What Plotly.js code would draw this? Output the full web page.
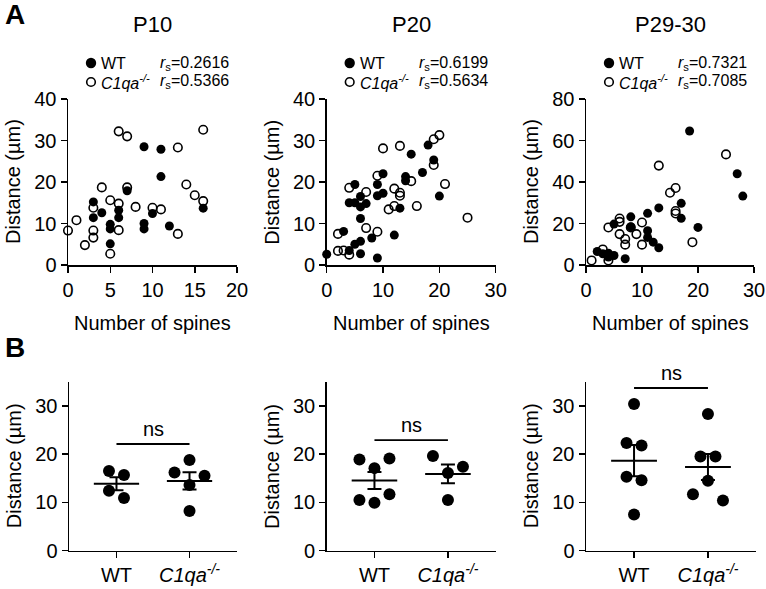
<!DOCTYPE html>
<html>
<head>
<meta charset="utf-8">
<script src="https://cdn.plot.ly/plotly-3.0.1.min.js"></script>
<style>html,body{margin:0;padding:0;background:#fff;}#chart{width:766px;height:589px;}</style>
</head>
<body>
<div id="chart"></div>
<script>
// ---------- DATA ----------
const panelTitles = ["P10", "P20", "P29-30"];
const groupLabels = ["WT", "<i>C1qa</i><sup><i>-/-</i></sup>"];

// Panel A: number of spines vs distance (µm)
const p10_wt_x = [3,3,4,5,5,5,6,6,7,9,9,9,10,11,11,12,16];
const p10_wt_y = [15.2,11.4,12.6,9.8,8.7,5.1,13.2,11.4,17.9,28.5,10.0,8.7,12.4,27.9,21.3,9.4,13.7];
const p10_ko_x = [0,1,2,3,3,3,4,5,5,6,6,6,7,7,8,10,11,13,13,14,15,16,16];
const p10_ko_y = [8.3,10.8,4.8,13.8,8.3,6.6,18.7,15.6,2.7,14.8,8.4,32.2,31.0,18.7,14.0,13.8,13.4,28.3,7.5,19.4,16.8,15.4,32.6];

const p20_wt_x = [0,3,4,4,5,5,5,6,6,6,6,6,7,8,9,9,9,10,10,12,13,14,14,15,17,18,19,20];
const p20_wt_y = [2.6,8.1,3.5,15,19.4,15,5,16.5,14,11.2,5.7,2.7,14.8,6.5,19.4,16.7,1.7,22,17.3,7.2,13.7,21.3,20.3,26.7,22.3,28.9,25.3,16.6];
const p20_ko_x = [2,2,3,4,4,7,7,9,9,10,11,12,12,13,13,13,15,16,19,19,20,21,25];
const p20_ko_y = [7.5,3.4,3.5,2.5,18.6,17.6,8.9,8,21.5,28.1,13.4,18.4,14.2,28.7,17.4,16.7,20.2,14.2,30.3,24.1,31.3,19.5,11.4];

const p29_wt_x = [18.5,27,28,17,17,20,13,11,8,8,5,11,11,12,13,7,2,3,4,5,4];
const p29_wt_y = [64.6,44,33.2,29.7,22.5,18.1,27.5,24.9,23.2,18.4,19.7,16.5,13.3,11,8.3,3,6.5,5.4,5.7,4.6,3.8];
const p29_ko_x = [1,3,4,4,6,6,6,7,7,8,9,10,10,13,15,16,16,16,19,25];
const p29_ko_y = [2.2,7.5,2.2,18.1,22.4,20.8,14.9,12.5,9.8,18.1,14.9,20.5,9.8,47.9,34.8,37.1,26,24.8,11,53.3];

const rs_wt = [0.2616, 0.6199, 0.7321];
const rs_ko = [0.5366, 0.5634, 0.7085];

// Panel B: distance (µm) per animal
const b10_wt = [16.5,15.7,12.4,10.9];
const b10_ko = [18.8,15.5,16.2,13.6,8.2];
const b20_wt = [18.9,19.1,17.1,11.7,9.95,10.5];
const b20_ko = [19.6,17.4,16.1,10.5];
const b29_wt = [30.4,21.8,22.3,15.3,14.6,7.5];
const b29_ko = [28.3,19.5,19.5,14.5,10.4,11.7];
const sigLabel = "ns";

// ---------- LAYOUT GEOMETRY (pixels) ----------
const W = 766, H = 589;
const FONT = "Liberation Sans, Arial, Helvetica, sans-serif";
const px = x => x / W;
const py = y => 1 - y / H;
const topX = [[68,237],[326.7,495.7],[586,754]];
const topY = [99,265];
const botX = [[69,237],[326.7,495.7],[586,756]];
const botY = [381.7,550.7];
const topXRange = [[0,20],[0,30],[0,30]];
const topXDtick = [5,10,10];
const topYRange = [[0,40],[0,40],[0,80]];
const topYDtick = [10,10,20];
const botYRange = [0,35];
const botXRange = [-0.65,1.65];

const scatterSets = [
  [p10_wt_x,p10_wt_y,p10_ko_x,p10_ko_y],
  [p20_wt_x,p20_wt_y,p20_ko_x,p20_ko_y],
  [p29_wt_x,p29_wt_y,p29_ko_x,p29_ko_y]
];
const dotSets = [[b10_wt,b10_ko],[b20_wt,b20_ko],[b29_wt,b29_ko]];

function mean(a){return a.reduce((s,v)=>s+v,0)/a.length;}
function sem(a){const m=mean(a);const v=a.reduce((s,x)=>s+(x-m)*(x-m),0)/(a.length-1);return Math.sqrt(v)/Math.sqrt(a.length);}

// Prism-like row swarm: offsets in x-axis units
function swarm(vals, pxPerY, pxPerX){
  const rowH = 12/pxPerY, adj = 15/pxPerY, s = 15/pxPerX;
  const idx = vals.map((v,i)=>i).sort((a,b)=>vals[b]-vals[a]);
  const rows = [];
  idx.forEach(i=>{
    const v = vals[i];
    const r = rows[rows.length-1];
    if(r && (r.top - v) < rowH){ r.items.push(i); r.bot = v; }
    else rows.push({top:v, bot:v, items:[i]});
  });
  const off = new Array(vals.length).fill(0);
  rows.forEach((r,k)=>{
    const n = r.items.length;
    if(n % 2 === 1){
      const asc = r.items.slice().sort((a,b)=>vals[a]-vals[b]);
      asc.forEach((i,j)=>{ const m = Math.ceil(j/2); off[i] = (j===0?0:(j%2===1?-1:1))*m*s; });
    } else {
      const prev = rows[k-1], next = rows[k+1];
      const nearOdd = (prev && prev.items.length%2===1 && (prev.bot - r.top) < adj) ||
                      (next && next.items.length%2===1 && (r.bot - next.top) < adj);
      r.items.forEach((i,j)=>{
        const m = Math.floor(j/2);
        const sign = j%2===0 ? -1 : 1;
        off[i] = sign * (nearOdd ? (m+1)*s : (m+0.5)*s);
      });
    }
  });
  return off;
}

const traces = [];
const layout = {
  width: W, height: H,
  margin: {l:0, r:0, t:0, b:0},
  paper_bgcolor: "#fff", plot_bgcolor: "rgba(0,0,0,0)",
  showlegend: false,
  font: {family: FONT, size: 20, color: "#000"},
  annotations: [], shapes: []
};

function axisBase(){
  return {showgrid:false, zeroline:false, showline:true, linecolor:"#000", linewidth:1.5,
    ticks:"outside", ticklen:6, tickwidth:1.5, tickcolor:"#000",
    tickfont:{family:FONT, size:20, color:"#000"}, fixedrange:true};
}

// ---- top row ----
for(let p=0;p<3;p++){
  const n = p+1;
  const xa = "xaxis"+(n===1?"":n), ya = "yaxis"+(n===1?"":n);
  const xr = "x"+(n===1?"":n), yr = "y"+(n===1?"":n);
  layout[xa] = Object.assign(axisBase(), {domain:[px(topX[p][0]),px(topX[p][1])], range:topXRange[p], dtick:topXDtick[p], tick0:0, anchor:yr});
  layout[ya] = Object.assign(axisBase(), {domain:[py(topY[1]),py(topY[0])], range:topYRange[p], dtick:topYDtick[p], tick0:0, anchor:xr});
  const [wx,wy,kx,ky] = scatterSets[p];
  traces.push({type:"scatter", mode:"markers", x:wx, y:wy, xaxis:xr, yaxis:yr, cliponaxis:false,
    marker:{symbol:"circle", size:9, color:"#000"}, hoverinfo:"skip"});
  traces.push({type:"scatter", mode:"markers", x:kx, y:ky, xaxis:xr, yaxis:yr, cliponaxis:false,
    marker:{symbol:"circle-open", size:8.5, color:"#000", line:{width:1.6, color:"#000"}}, hoverinfo:"skip"});

  const L = topX[p][0], R = topX[p][1], cx = (L+R)/2;
  // panel title
  layout.annotations.push({text:panelTitles[p], xref:"paper", yref:"paper", x:px(cx), y:py(24),
    xanchor:"center", yanchor:"middle", showarrow:false, font:{family:FONT, size:22, color:"#000"}});
  // axis titles
  layout.annotations.push({text:"Number of spines", xref:"paper", yref:"paper", x:px(cx), y:py(323),
    xanchor:"center", yanchor:"middle", showarrow:false, font:{family:FONT, size:20, color:"#000"}});
  layout.annotations.push({text:"Distance (µm)", xref:"paper", yref:"paper", x:px(L-55), y:py((topY[0]+topY[1])/2),
    xanchor:"center", yanchor:"middle", textangle:-90, showarrow:false, font:{family:FONT, size:20, color:"#000"}});
  // legend
  const rows = [{y:63, filled:true, label:groupLabels[0], r:rs_wt[p]},{y:82, filled:false, label:groupLabels[1], r:rs_ko[p]}];
  rows.forEach(rw=>{
    const rad = rw.filled ? 5.2 : 4.3;
    layout.shapes.push({type:"circle", xref:"paper", yref:"paper", xsizemode:"pixel", ysizemode:"pixel",
      xanchor:px(L+23), yanchor:py(rw.y), x0:-rad, x1:rad, y0:-rad, y1:rad,
      fillcolor: rw.filled ? "#000" : "rgba(0,0,0,0)", line:{color:"#000", width: rw.filled?0:1.6}});
    layout.annotations.push({text:rw.label, xref:"paper", yref:"paper", x:px(L+31), y:py(rw.y),
      xanchor:"left", yanchor:"middle", showarrow:false, font:{family:FONT, size:16, color:"#000"}});
    layout.annotations.push({text:"<i>r</i><sub>s</sub>=" + rw.r.toFixed(4), xref:"paper", yref:"paper", x:px(L+90), y:py(rw.y),
      xanchor:"left", yanchor:"middle", showarrow:false, font:{family:FONT, size:16, color:"#000"}});
  });
}

// ---- bottom row ----
for(let p=0;p<3;p++){
  const n = p+4;
  const xa = "xaxis"+n, ya = "yaxis"+n, xr = "x"+n, yr = "y"+n;
  layout[xa] = Object.assign(axisBase(), {domain:[px(botX[p][0]),px(botX[p][1])], range:botXRange,
    tickmode:"array", tickvals:[0,1], ticktext:groupLabels, anchor:yr});
  layout[ya] = Object.assign(axisBase(), {domain:[py(botY[1]),py(botY[0])], range:botYRange, dtick:10, tick0:0, anchor:xr});
  const pxPerY = (botY[1]-botY[0])/(botYRange[1]-botYRange[0]);
  const pxPerX = (botX[p][1]-botX[p][0])/(botXRange[1]-botXRange[0]);
  const groups = dotSets[p];
  groups.forEach((vals,g)=>{
    const off = swarm(vals, pxPerY, pxPerX);
    traces.push({type:"scatter", mode:"markers", x:vals.map((v,i)=>g+off[i]), y:vals, xaxis:xr, yaxis:yr, cliponaxis:false,
      marker:{symbol:"circle", size:12, color:"#000"}, hoverinfo:"skip"});
    traces.push({type:"scatter", mode:"markers", x:[g], y:[mean(vals)], xaxis:xr, yaxis:yr, cliponaxis:false,
      marker:{size:1, color:"rgba(0,0,0,0)"}, hoverinfo:"skip",
      error_x:{type:"constant", value:0.31, width:0, thickness:2, color:"#000"},
      error_y:{type:"data", array:[sem(vals)], width:7, thickness:2, color:"#000"}});
  });
  const top = Math.max(...groups[0], ...groups[1]) + 3.3;
  layout.shapes.push({type:"line", xref:xr, yref:yr, x0:0, x1:1, y0:top, y1:top, line:{color:"#000", width:1.8}});
  layout.annotations.push({text:sigLabel, xref:xr, yref:yr, x:0.5, y:top, xanchor:"center", yanchor:"bottom", yshift:2,
    showarrow:false, font:{family:FONT, size:20, color:"#000"}});
  const L = botX[p][0];
  layout.annotations.push({text:"Distance (µm)", xref:"paper", yref:"paper", x:px(L-55), y:py((botY[0]+botY[1])/2),
    xanchor:"center", yanchor:"middle", textangle:-90, showarrow:false, font:{family:FONT, size:20, color:"#000"}});
}

// panel letters
layout.annotations.push({text:"<b>A</b>", xref:"paper", yref:"paper", x:px(3), y:py(14), xanchor:"left", yanchor:"middle",
  showarrow:false, font:{family:FONT, size:28, color:"#000"}});
layout.annotations.push({text:"<b>B</b>", xref:"paper", yref:"paper", x:px(3), y:py(347), xanchor:"left", yanchor:"middle",
  showarrow:false, font:{family:FONT, size:28, color:"#000"}});

Plotly.newPlot("chart", traces, layout, {staticPlot:true, displayModeBar:false});
</script>
</body>
</html>
